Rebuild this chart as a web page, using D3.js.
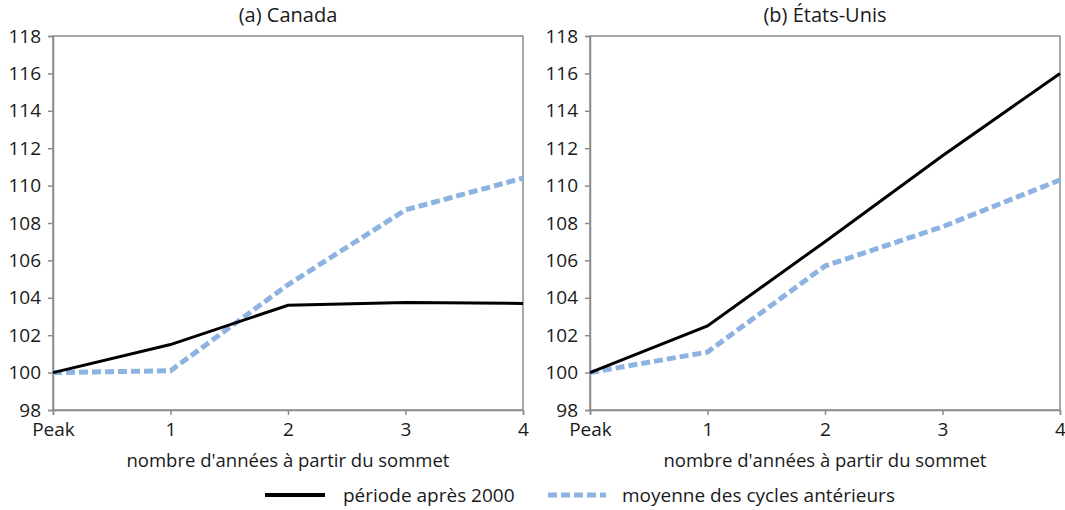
<!DOCTYPE html>
<html>
<head>
<meta charset="utf-8">
<script src="https://cdn.jsdelivr.net/npm/d3@7"></script>
<style>
  body { margin: 0; background: #fff; }
  svg text { font-family: "Open Sans", "DejaVu Sans", sans-serif; fill: #1a1a1a; }
</style>
</head>
<body>
<div id="chart"></div>
<script>
// Données
const periodes = ['Peak', '1', '2', '3', '4'];
const canadaApres2000 = [100, 101.5, 103.6, 103.75, 103.7];
const canadaMoyenne = [100, 100.1, 104.7, 108.7, 110.4];
const usaApres2000 = [100, 102.5, 107.0, 111.6, 116.0];
const usaMoyenne = [100, 101.1, 105.7, 107.8, 110.3];
const yTicks = [98, 100, 102, 104, 106, 108, 110, 112, 114, 116, 118];

const COLOR_NOIR = '#000000',
  COLOR_BLEU = '#8DB3E2',
  COLOR_AXE = '#8c8c8c';

const W = 1065, H = 510;
let svg = d3.select('#chart').append('svg')
  .attr('width', W)
  .attr('height', H);

let panneaux = [
  {titre: '(a) Canada', x0: 53, x1: 523, a: canadaApres2000, m: canadaMoyenne},
  {titre: '(b) États-Unis', x0: 590, x1: 1060, a: usaApres2000, m: usaMoyenne}
];

let yHaut = 36, yBas = 410;

panneaux.forEach(function(p) {
  let g = svg.append('g');

  let x = d3.scalePoint()
    .domain(periodes)
    .range([p.x0, p.x1]);

  let y = d3.scaleLinear()
    .domain([98, 118])
    .range([yBas, yHaut]);

  // cadre
  g.append('rect')
    .attr('x', p.x0)
    .attr('y', yHaut)
    .attr('width', p.x1 - p.x0)
    .attr('height', yBas - yHaut)
    .attr('fill', 'none')
    .attr('stroke', COLOR_AXE)
    .attr('stroke-width', 1.5);

  let yAxis = g.append('g')
    .attr('transform', 'translate(' + p.x0 + ',0)')
    .call(d3.axisLeft(y).tickValues(yTicks).tickSize(5).tickPadding(7));
  yAxis.select('.domain').attr('stroke', COLOR_AXE).attr('stroke-width', 1.5);
  yAxis.selectAll('.tick line').attr('stroke', COLOR_AXE).attr('stroke-width', 1.5);
  yAxis.selectAll('.tick text').style('font-size', '19px').attr('fill', '#1a1a1a');

  let xAxis = g.append('g')
    .attr('transform', 'translate(0,' + yBas + ')')
    .call(d3.axisBottom(x).tickSize(5).tickPadding(8));
  xAxis.select('.domain').attr('stroke', COLOR_AXE).attr('stroke-width', 1.5);
  xAxis.selectAll('.tick line').attr('stroke', COLOR_AXE).attr('stroke-width', 1.5);
  xAxis.selectAll('.tick text').style('font-size', '19px').attr('fill', '#1a1a1a');

  g.append('text')
    .attr('x', (p.x0 + p.x1) / 2)
    .attr('y', 22)
    .attr('text-anchor', 'middle')
    .style('font-size', '20px')
    .text(p.titre);

  g.append('text')
    .attr('x', (p.x0 + p.x1) / 2)
    .attr('y', 467)
    .attr('text-anchor', 'middle')
    .style('font-size', '18.5px')
    .text("nombre d'années à partir du sommet");

  let line = d3.line()
    .x(function(d, i) { return x(periodes[i]); })
    .y(function(d) { return y(d); });

  g.append('path')
    .datum(p.m)
    .attr('d', line)
    .attr('fill', 'none')
    .attr('stroke', COLOR_BLEU)
    .attr('stroke-width', 5)
    .attr('stroke-dasharray', '9,4');

  g.append('path')
    .datum(p.a)
    .attr('d', line)
    .attr('fill', 'none')
    .attr('stroke', COLOR_NOIR)
    .attr('stroke-width', 3);
});

// Légende
let legende = svg.append('g');
legende.append('line')
  .attr('x1', 265).attr('x2', 325)
  .attr('y1', 495).attr('y2', 495)
  .attr('stroke', COLOR_NOIR)
  .attr('stroke-width', 4);
legende.append('text')
  .attr('x', 343).attr('y', 502)
  .style('font-size', '19px')
  .text('période après 2000');
legende.append('line')
  .attr('x1', 548).attr('x2', 606)
  .attr('y1', 495).attr('y2', 495)
  .attr('stroke', COLOR_BLEU)
  .attr('stroke-width', 5)
  .attr('stroke-dasharray', '9,4');
legende.append('text')
  .attr('x', 622).attr('y', 502)
  .style('font-size', '19px')
  .text('moyenne des cycles antérieurs');
</script>
</body>
</html>
